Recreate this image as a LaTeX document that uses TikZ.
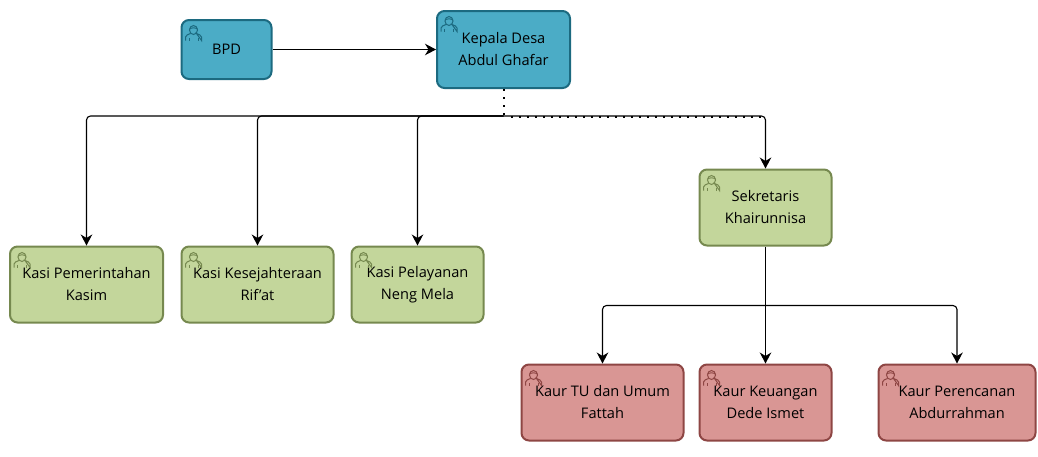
\documentclass[tikz,border=0pt]{standalone}
\usepackage{xcolor}
\usepackage{fontspec}
\setmainfont{Open Sans}
\usepackage{tikz}
\usetikzlibrary{positioning, calc, arrows.meta}
\definecolor{kepalablue}{HTML}{4BACC6}
\definecolor{kepalaline}{HTML}{1C6A80}
\definecolor{kasigreen}{HTML}{C3D69B}
\definecolor{kasiline}{HTML}{76894F}
\definecolor{kaurred}{HTML}{D99694}
\definecolor{kaurline}{HTML}{8E4644}

\tikzset{
	personicon/.pic={
		\draw [pic actions, fill=none, line width=1pt] (0,16) -- (0,12.5) .. controls (0,10.5) and (3,10) .. (5,9) (11,9) .. controls (13,10) and (16,10.5) .. (16,12.5) -- (16,16) -- cycle;
		\draw [pic actions, fill=none, line width=1pt] (8,5.5) circle [x radius=4, y radius=4.5];
		\draw [pic actions, fill=none, line width=1pt] (4,4.4) .. controls (6,3) and (10,3) .. (12,4.4);
		\draw [pic actions, fill=none, line width=0.8pt] (3.5,16) -- (3.5,13) (12.5,16) -- (12.5,13);
	}
}

\begin{document}
\begin{tikzpicture}[x=1pt, y=-1pt]
		\tikzstyle{task}=[draw, line width=2pt, rounded corners=7.5pt, align=center, inner sep=0pt, text=black, font=\fontsize{14.6}{22}\selectfont, execute at begin node={\vspace*{3.5pt}}]
		\tikzstyle{taskblue}=[task, draw=kepalaline, fill=kepalablue]
		\tikzstyle{taskgreen}=[task, draw=kasiline, fill=kasigreen]
		\tikzstyle{taskred}=[task, draw=kaurline, fill=kaurred]
		\tikzstyle{link}=[draw=black, line width=1.1pt, rounded corners=4pt]
		\tikzstyle{linkarrow}=[link, -{Stealth[length=11pt, width=11.5pt, inset=3.5pt]}]
		\tikzstyle{linkdots}=[draw=black, line width=2pt, dash pattern=on 2pt off 6pt]
		
		\useasboundingbox (0,0) rectangle (1038,456);
		
		\node [taskblue, minimum width=90pt, minimum height=59pt] (BPD) at (226.5,49.5) {BPD};
		\node [taskblue, minimum width=133pt, minimum height=77pt] (Kades) at (503.5,49.5) {Kepala Desa\\Abdul Ghafar};
		
		\node [taskgreen, minimum width=153pt, minimum height=76pt] (Kasi1) at (86.5,284.5) {Kasi Pemerintahan\\Kasim};
		\node [taskgreen, minimum width=152pt, minimum height=76pt] (Kasi2) at (257.5,284.5) {Kasi Kesejahteraan\\Rif'at};
		\node [taskgreen, minimum width=132pt, minimum height=76pt] (Kasi3) at (417.5,284.5) {Kasi Pelayanan\\Neng Mela};
		\node [taskgreen, minimum width=132pt, minimum height=76pt] (Sekre) at (765.5,207.5) {Sekretaris\\Khairunnisa};
		
		\node [taskred, minimum width=162pt, minimum height=76pt] (Kaur1) at (602.5,402.5) {Kaur TU dan Umum\\Fattah};
		\node [taskred, minimum width=132pt, minimum height=76pt] (Kaur2) at (765.5,402.5) {Kaur Keuangan\\Dede Ismet};
		\node [taskred, minimum width=157pt, minimum height=76pt] (Kaur3) at (957,402.5) {Kaur Perencanan\\Abdurrahman};
		
		%% person icons
		\foreach \n in {BPD, Kades}
		\pic [draw=kepalaline] at ($(\n.north west)+(5,5.5)$) {personicon};
		\foreach \n in {Kasi1, Kasi2, Kasi3, Sekre}
		\pic [draw=kasiline] at ($(\n.north west)+(5,6)$) {personicon};
		\foreach \n in {Kaur1, Kaur2, Kaur3}
		\pic [draw=kaurline] at ($(\n.north west)+(5,6)$) {personicon};
		
		\coordinate (J1) at ($(Kades.south)+(0,27)$);
		\coordinate (J2) at ($(Sekre.south)+(0,59)$);
		\coordinate (J3) at ($(J1)+(7,1)$);
		
		\draw [linkarrow] (BPD.east) -- (BPD.east -| Kades.west);
		\draw [linkdots] (Kades.south) -- (J1);
		\foreach \n in {Kasi1, Kasi2, Kasi3}
		\draw [linkarrow] (J1) -| (\n.north);
		\draw [linkarrow] (J1) -| (Sekre.north);
		\draw [linkdots] (J3) -- (J3 -| Sekre.north);
		
		\draw [linkarrow] (Sekre.south) -- (Kaur2.north);
		\draw [linkarrow] (J2) -| (Kaur1.north);
		\draw [linkarrow] (J2) -| (Kaur3.north);
\end{tikzpicture}
\end{document}
